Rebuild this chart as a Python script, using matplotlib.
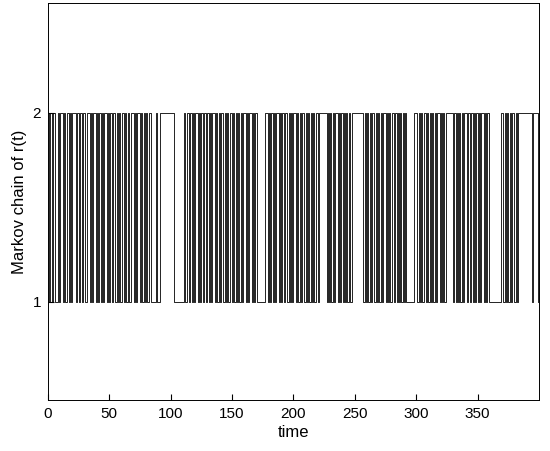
import numpy as np
import matplotlib
matplotlib.use("Agg")
import matplotlib.pyplot as plt

# state of the Markov chain r(t) at each unit time step
chain_blocks = [
    "2121221121" "2212112121" "2221212212" "1122121221" "2121212212",
    "1212212121" "2212121122" "1212212121" "2122111121" "1222222222",
    "2221111111" "1212212121" "2212121221" "2121221212" "1221212122",
    "1212121212" "2121221212" "1111111221" "2121212212" "1212212121",
    "2212121221" "2121212122" "1222222121" "2121221212" "1212121122",
    "2222222121" "2121221212" "1212212121" "2212121212" "1211111122",
    "2121212212" "1212121221" "2121222222" "1212121212" "2122121212",
    "1212212121" "1111111112" "2121212122" "1212222222" "2222122221",
]
x_ticks = [0, 50, 100, 150, 200, 250, 300, 350]
y_ticks = [1, 2]

states = [int(c) for block in chain_blocks for c in block]
states.append(states[-1])
t = np.arange(len(states))

plt.rcParams['font.family'] = ['Liberation Sans', 'DejaVu Sans']
fig = plt.figure(figsize=(5.5, 4.51), dpi=100)
ax = fig.add_axes([0.087, 0.113, 0.893, 0.880])
ax.plot(t, states, drawstyle='steps-post', color='black', linewidth=0.6)
ax.set_xlim(0, 400)
ax.set_ylim(0.48, 2.58)
ax.set_xticks(x_ticks)
ax.set_yticks(y_ticks)
ax.tick_params(direction='in', labelsize=11, length=4, pad=5)
ax.set_xlabel('time', fontsize=12, labelpad=3)
ax.set_ylabel('Markov chain of r(t)', fontsize=12, labelpad=4)
for s in ax.spines.values():
    s.set_linewidth(0.7)

fig.savefig('out.png', dpi=100)
